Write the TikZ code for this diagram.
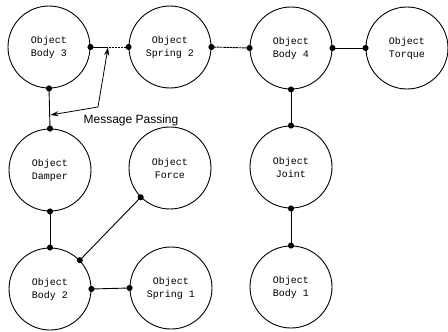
\documentclass[tikz,border=0pt]{standalone}
\usepackage{fontspec}
\newfontfamily\objfont{Liberation Mono}
\newfontfamily\labelfont{Liberation Sans}
\usetikzlibrary{arrows.meta}
\begin{document}
\begin{tikzpicture}[x=1pt,y=-1pt,
  obj/.style={circle,draw,line width=0.9pt,minimum size=82pt,inner sep=0pt,
    align=center,font=\objfont\fontsize{10}{13}\selectfont},
  link/.style={line width=0.9pt,{Circle[length=6pt]}-{Circle[length=6pt]},shorten <=-3pt,shorten >=-3pt},
  fine/.style={link,dash pattern=on 2.5pt off 0.6pt},
  msg/.style={line width=0.8pt,{Stealth[length=8pt,width=5pt]}-{Stealth[length=8pt,width=5pt]}}]
\useasboundingbox (0,0) rectangle (448,332);

% objects
\node[obj] (b3) at (49,47)  {Object\\Body 3};
\node[obj] (s2) at (170,47) {Object\\Spring 2};
\node[obj] (b4) at (291,48) {Object\\Body 4};
\node[obj] (tq) at (407,48) {Object\\Torque};
\node[obj] (dm) at (50,170) {Object\\Damper};
\node[obj] (fc) at (170,168) {Object\\Force};
\node[obj] (jt) at (291,167) {Object\\Joint};
\node[obj] (b2) at (50,289) {Object\\Body 2};
\node[obj] (s1) at (171,288) {Object\\Spring 1};
\node[obj] (b1) at (291,287) {Object\\Body 1};

% connections between objects
\draw[fine] (b3.east) -- (s2.west);
\draw[fine] (s2.east) -- (b4.west);
\draw[link] (b4.east) -- (tq.west);
\draw[link] (b4.south) -- (jt.north);
\draw[link] (jt.south) -- (b1.north);
\draw[link] (b3.south) -- (dm.north);
\draw[link] (dm.south) -- (b2.north);
\draw[link] (b2.44) -- (fc.225);
\draw[link] (b2.east) -- (s1.west);

% message passing indicator
\coordinate (mtop) at (108,47.5);
\coordinate (mbend) at (98,107);
\coordinate (mleft) at (50.5,115);
\draw[msg] (mtop) -- (mbend) -- (mleft);
\node[font=\labelfont\fontsize{12}{14}\selectfont] (mlabel) at (131,120) {Message Passing};
\end{tikzpicture}
\end{document}
